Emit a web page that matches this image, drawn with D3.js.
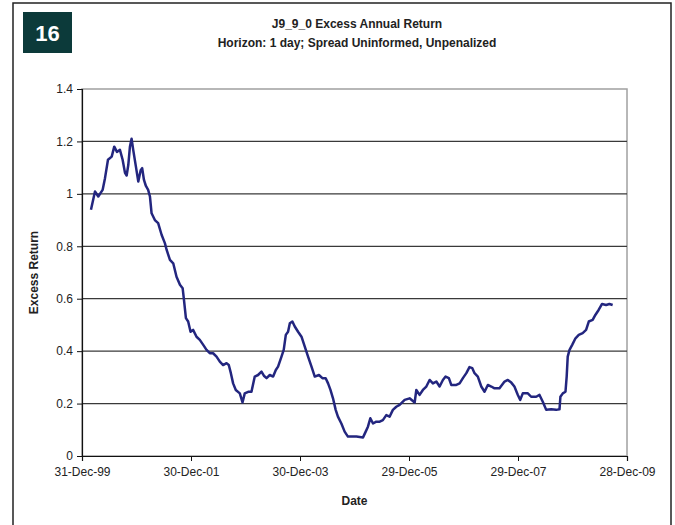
<!DOCTYPE html>
<html>
<head>
<meta charset="utf-8">
<script src="https://cdn.jsdelivr.net/npm/d3@7"></script>
<style>
  body { margin: 0; background: #fff; }
  svg { display: block; font-family: "Liberation Sans", Arial, sans-serif; }
</style>
</head>
<body>
<div id="chart"></div>
<script>
let years = [2000.165, 2000.238, 2000.299, 2000.379, 2000.421, 2000.476, 2000.544, 2000.592, 2000.641, 2000.696,
  2000.745, 2000.788, 2000.819, 2000.848, 2000.879, 2000.910, 2000.940, 2000.989, 2001.031, 2001.075,
  2001.104, 2001.136, 2001.172, 2001.214, 2001.245, 2001.277, 2001.337, 2001.397, 2001.460, 2001.520,
  2001.551, 2001.612, 2001.672, 2001.734, 2001.795, 2001.844, 2001.868, 2001.905, 2001.947, 2001.991,
  2002.038, 2002.101, 2002.161, 2002.222, 2002.284, 2002.344, 2002.405, 2002.467, 2002.527, 2002.588,
  2002.650, 2002.692, 2002.729, 2002.771, 2002.821, 2002.894, 2002.943, 2002.985, 2003.046, 2003.108,
  2003.168, 2003.229, 2003.291, 2003.339, 2003.383, 2003.443, 2003.504, 2003.553, 2003.595, 2003.658,
  2003.700, 2003.736, 2003.778, 2003.810, 2003.859, 2003.901, 2003.962, 2004.024, 2004.084, 2004.145,
  2004.207, 2004.267, 2004.346, 2004.408, 2004.469, 2004.511, 2004.555, 2004.603, 2004.652, 2004.694,
  2004.756, 2004.817, 2004.877, 2005.031, 2005.152, 2005.201, 2005.244, 2005.288, 2005.335, 2005.397,
  2005.458, 2005.518, 2005.581, 2005.641, 2005.701, 2005.764, 2005.824, 2005.916, 2006.007, 2006.099,
  2006.130, 2006.190, 2006.251, 2006.313, 2006.374, 2006.434, 2006.496, 2006.557, 2006.617, 2006.667,
  2006.727, 2006.771, 2006.863, 2006.923, 2006.984, 2007.046, 2007.106, 2007.156, 2007.198, 2007.258,
  2007.321, 2007.381, 2007.441, 2007.504, 2007.564, 2007.656, 2007.747, 2007.808, 2007.870, 2007.930,
  2007.991, 2008.035, 2008.083, 2008.174, 2008.236, 2008.328, 2008.388, 2008.449, 2008.511, 2008.603,
  2008.694, 2008.755, 2008.773, 2008.815, 2008.864, 2008.888, 2008.907, 2008.938, 2008.987, 2009.048,
  2009.108, 2009.181, 2009.244, 2009.291, 2009.364, 2009.414, 2009.474, 2009.536, 2009.609, 2009.670,
  2009.731];
let excess = [0.939, 1.009, 0.990, 1.015, 1.060, 1.130, 1.142, 1.180, 1.160, 1.168,
  1.130, 1.080, 1.070, 1.110, 1.180, 1.210, 1.168, 1.104, 1.047, 1.090,
  1.098, 1.053, 1.030, 1.015, 0.990, 0.926, 0.900, 0.888, 0.844, 0.812,
  0.786, 0.748, 0.735, 0.684, 0.653, 0.640, 0.600, 0.526, 0.513, 0.474,
  0.481, 0.455, 0.443, 0.424, 0.405, 0.392, 0.392, 0.379, 0.360, 0.347,
  0.354, 0.347, 0.316, 0.277, 0.252, 0.239, 0.204, 0.239, 0.245, 0.245,
  0.303, 0.309, 0.322, 0.305, 0.297, 0.309, 0.303, 0.328, 0.341, 0.379,
  0.405, 0.462, 0.474, 0.506, 0.513, 0.494, 0.474, 0.455, 0.417, 0.379,
  0.341, 0.303, 0.309, 0.297, 0.297, 0.277, 0.252, 0.220, 0.176, 0.150,
  0.124, 0.093, 0.074, 0.074, 0.071, 0.093, 0.112, 0.144, 0.124, 0.131,
  0.131, 0.137, 0.156, 0.150, 0.176, 0.188, 0.195, 0.214, 0.220, 0.204,
  0.252, 0.233, 0.252, 0.265, 0.290, 0.277, 0.284, 0.265, 0.290, 0.303,
  0.297, 0.271, 0.271, 0.277, 0.297, 0.316, 0.339, 0.335, 0.316, 0.303,
  0.265, 0.245, 0.271, 0.265, 0.258, 0.258, 0.284, 0.290, 0.280, 0.265,
  0.233, 0.214, 0.239, 0.239, 0.226, 0.226, 0.233, 0.207, 0.176, 0.178,
  0.176, 0.178, 0.226, 0.239, 0.245, 0.303, 0.379, 0.405, 0.424, 0.449,
  0.462, 0.469, 0.481, 0.513, 0.519, 0.538, 0.557, 0.580, 0.576, 0.580,
  0.576];
let xTicks = ["31-Dec-99", "30-Dec-01", "30-Dec-03", "29-Dec-05", "29-Dec-07", "28-Dec-09"];
let yTicks = [0, 0.2, 0.4, 0.6, 0.8, 1, 1.2, 1.4];

let W = 675, H = 525;
let margin = {top: 89, right: 48, bottom: 69, left: 82},
    width = W - margin.left - margin.right,
    height = H - margin.top - margin.bottom;

let parse = d3.timeParse("%d-%b-%y");
let tickDates = xTicks.map(parse);
let start = tickDates[0];

let data = years.map((y, i) => ({
  date: d3.timeDay.offset(start, Math.round((y - 2000) * 365.25)),
  value: excess[i]
}));

let svg = d3.select("#chart").append("svg")
  .attr("width", W).attr("height", H);

// outer frame
svg.append("rect")
  .attr("x", 13).attr("y", 3).attr("width", 658).attr("height", 540)
  .attr("fill", "none").attr("stroke", "#222").attr("stroke-width", 1.5);

// slide number badge
svg.append("rect")
  .attr("x", 23).attr("y", 12).attr("width", 49).attr("height", 41)
  .attr("fill", "#0c3a3a");
svg.append("text")
  .attr("x", 47.5).attr("y", 41)
  .attr("text-anchor", "middle")
  .attr("fill", "#fff").attr("font-size", "22px").attr("font-weight", "700")
  .text("16");

svg.append("text")
  .attr("x", 357).attr("y", 28)
  .attr("text-anchor", "middle")
  .attr("font-size", "12px").attr("font-weight", "700").attr("fill", "#222")
  .text("J9_9_0 Excess Annual Return");
svg.append("text")
  .attr("x", 357).attr("y", 47)
  .attr("text-anchor", "middle")
  .attr("font-size", "12px").attr("font-weight", "700").attr("fill", "#222")
  .text("Horizon: 1 day; Spread Uninformed, Unpenalized");

let g = svg.append("g")
  .attr("transform", "translate(" + margin.left + "," + margin.top + ")");

let x = d3.scaleTime()
  .domain([tickDates[0], tickDates[tickDates.length - 1]])
  .range([0, width]);
let y = d3.scaleLinear()
  .domain([0, 1.4])
  .range([height, 0]);

// plot area border (top/right grey)
g.append("rect")
  .attr("x", 0).attr("y", 0).attr("width", width).attr("height", height)
  .attr("fill", "none").attr("stroke", "#a0a0a0").attr("stroke-width", 1.5);

// gridlines
g.selectAll(".grid")
  .data(yTicks.filter(t => t > 0 && t < 1.4))
  .enter().append("line")
  .attr("x1", 0).attr("x2", width)
  .attr("y1", d => y(d)).attr("y2", d => y(d))
  .attr("stroke", "#3a3a3a").attr("stroke-width", 1.2);

let yAxis = g.append("g")
  .call(d3.axisLeft(y).tickValues(yTicks).tickSize(5).tickPadding(4)
    .tickFormat(d => d3.format("")(+d.toFixed(1))));
let xAxis = g.append("g")
  .attr("transform", "translate(0," + height + ")")
  .call(d3.axisBottom(x).tickValues(tickDates).tickSize(5).tickPadding(6)
    .tickFormat((d, i) => xTicks[i]));

[xAxis, yAxis].forEach(a => {
  a.select(".domain").attr("stroke", "#111").attr("stroke-width", 1.2);
  a.selectAll(".tick line").attr("stroke", "#111");
  a.selectAll("text").attr("font-size", "12px").attr("fill", "#222")
    .attr("font-family", "Liberation Sans, Arial, sans-serif");
});

let line = d3.line()
  .x(d => x(d.date))
  .y(d => y(d.value));

g.append("path")
  .datum(data)
  .attr("d", line)
  .attr("fill", "none")
  .attr("stroke", "#23267f")
  .attr("stroke-width", 2.5)
  .attr("stroke-linejoin", "round");

svg.append("text")
  .attr("transform", "translate(38," + (margin.top + height / 2) + ") rotate(-90)")
  .attr("text-anchor", "middle")
  .attr("font-size", "12px").attr("font-weight", "700").attr("fill", "#222")
  .text("Excess Return");

svg.append("text")
  .attr("x", margin.left + width / 2).attr("y", 505)
  .attr("text-anchor", "middle")
  .attr("font-size", "12px").attr("font-weight", "700").attr("fill", "#222")
  .text("Date");
</script>
</body>
</html>
